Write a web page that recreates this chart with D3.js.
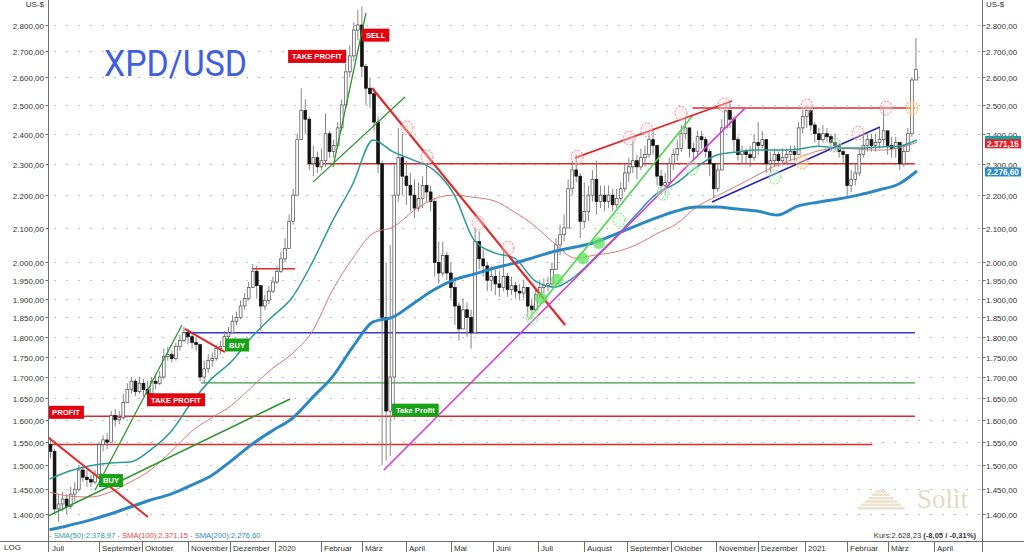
<!DOCTYPE html>
<html><head><meta charset="utf-8">
<script src="https://cdn.jsdelivr.net/npm/d3@7/dist/d3.min.js"></script>
<style>body{margin:0;background:#fff}svg{display:block}</style>
</head><body><svg id="c" width="1024" height="552" font-family="Liberation Sans, Arial, sans-serif"></svg>
<script>
// ---------- DATA ----------
const startDate = "2019-07-29";
const endDate = "2021-04-30";
const firstOpen = 1545;
// two-trading-day candles
const closes = [
1530,1410,1420,1430,1415,1440,1450,1490,1475,1470,
1465,1480,1545,1555,1550,1610,1600,1605,1640,1670,
1690,1665,1685,1670,1660,1690,1685,1700,1750,1755,
1745,1775,1790,1810,1800,1785,1780,1700,1720,1740,
1745,1770,1775,1800,1810,1840,1850,1880,1900,1930,
1975,1935,1880,1895,1920,1945,1975,2010,2040,2120,
2200,2380,2480,2450,2300,2320,2290,2310,2400,2340,
2360,2420,2500,2620,2680,2780,2800,2640,2560,2540,
2440,2300,1850,1620,1700,2200,2320,2260,2230,2200,
2160,2190,2230,2210,2180,2000,1970,2020,1970,1930,
1880,1820,1870,1850,1810,2060,2010,1990,1950,1960,
1940,1930,1960,1925,1935,1920,1915,1930,1880,1870,
1910,1930,1935,1940,1980,2050,2080,2100,2220,2280,
2260,2120,2150,2200,2250,2180,2200,2180,2200,2170,
2190,2220,2270,2290,2310,2290,2320,2330,2380,2360,
2260,2230,2240,2300,2330,2350,2400,2420,2350,2340,
2390,2380,2340,2300,2220,2280,2420,2480,2450,2380,
2330,2340,2330,2320,2370,2360,2380,2300,2310,2330,
2310,2320,2330,2340,2330,2420,2460,2480,2430,2400,
2380,2400,2390,2370,2360,2340,2330,2230,2250,2270,
2330,2360,2380,2360,2370,2380,2410,2360,2350,2370,
2300,2340,2400,2590,2628.23];
const highs = [
1560,1535,1440,1445,1440,1455,1465,1500,1495,1490,
1480,1490,1550,1565,1570,1620,1625,1620,1660,1685,
1700,1695,1700,1695,1690,1700,1705,1715,1770,1775,
1765,1785,1805,1825,1820,1810,1800,1780,1740,1755,
1760,1780,1790,1815,1825,1855,1865,1895,1915,1945,
1995,1990,1930,1910,1935,1960,1990,2030,2070,2140,
2220,2400,2560,2520,2460,2360,2340,2350,2470,2410,
2380,2440,2520,2650,2720,2810,2860,2875,2650,2600,
2560,2460,2310,2000,2050,2300,2420,2400,2310,2270,
2250,2240,2260,2300,2230,2190,2060,2060,2030,2000,
1960,1890,1900,1890,1870,2100,2090,2040,2000,1990,
1980,1975,2035,1970,1960,1945,1940,1950,1930,1900,
1930,1950,1955,1960,2000,2070,2110,2140,2250,2310,
2330,2270,2240,2230,2280,2310,2230,2230,2230,2220,
2220,2240,2300,2320,2380,2330,2350,2360,2410,2420,
2360,2280,2270,2320,2350,2380,2430,2460,2420,2370,
2410,2410,2390,2350,2300,2300,2450,2500,2505,2460,
2390,2360,2350,2360,2400,2440,2410,2380,2340,2350,
2340,2350,2350,2360,2360,2440,2480,2500,2490,2440,
2420,2430,2420,2400,2400,2370,2350,2330,2280,2300,
2350,2400,2400,2400,2400,2420,2490,2410,2390,2390,
2370,2360,2420,2600,2750];
const lows = [
1515,1400,1385,1405,1400,1410,1425,1445,1465,1455,
1455,1460,1480,1530,1535,1550,1585,1590,1600,1640,
1660,1655,1660,1655,1650,1655,1670,1680,1695,1740,
1735,1740,1765,1785,1780,1770,1765,1690,1685,1710,
1725,1740,1755,1775,1790,1810,1830,1845,1870,1895,
1930,1900,1815,1870,1885,1915,1940,1970,2000,2040,
2110,2200,2390,2400,2280,2260,2270,2280,2290,2320,
2320,2350,2410,2490,2600,2660,2740,2600,2500,2490,
2410,2270,1500,1510,1520,1600,2180,2200,2170,2150,
2130,2150,2160,2180,2150,1960,1940,1960,1950,1900,
1830,1790,1820,1800,1770,1810,1980,1960,1920,1920,
1910,1905,1920,1905,1910,1900,1895,1900,1850,1845,
1870,1900,1915,1920,1930,1980,2020,2060,2100,2200,
2240,2070,2100,2120,2180,2140,2160,2150,2160,2150,
2160,2180,2210,2240,2270,2250,2280,2290,2320,2330,
2230,2200,2200,2230,2280,2310,2340,2380,2320,2310,
2330,2350,2320,2260,2190,2210,2280,2420,2420,2340,
2310,2300,2300,2290,2310,2330,2350,2270,2270,2290,
2290,2300,2300,2310,2310,2330,2400,2420,2410,2370,
2360,2370,2370,2340,2340,2320,2300,2200,2210,2230,
2260,2320,2340,2340,2340,2350,2360,2330,2320,2320,
2280,2290,2340,2390,2590];
// moving averages, sampled every 10 trading days (last sample = last day)
const smaDays = [0,10,20,30,40,50,60,70,80,90,100,110,120,130,140,150,160,170,180,190,200,210,220,230,240,250,260,270,280,290,300,310,320,330,340,350,360,370,380,390,400,410,420,429];
const sma50 = [1471,1488,1499,1505,1507,1533,1573,1638,1695,1738,1799,1851,1903,2000,2121,2235,2379,2339,2312,2280,2203,2064,2027,2012,1949,1931,1961,2015,2073,2139,2203,2238,2289,2329,2339,2345,2345,2348,2358,2352,2352,2355,2358,2378.97];
const sma100 = [1444,1436,1434,1444,1465,1490,1529,1573,1604,1633,1676,1720,1757,1814,1923,2012,2084,2103,2151,2188,2200,2193,2182,2148,2106,2053,2012,2021,2030,2050,2082,2112,2163,2197,2229,2263,2296,2319,2342,2352,2348,2345,2352,2371.15];
const sma200 = [1369,1378,1388,1400,1414,1428,1440,1458,1478,1510,1545,1575,1603,1651,1701,1774,1838,1851,1887,1923,1951,1967,1984,1998,2015,2032,2044,2058,2082,2106,2130,2151,2163,2163,2157,2151,2139,2166,2178,2188,2200,2216,2235,2276.6];
const yTickValues = [2800,2700,2600,2500,2400,2300,2200,2100,2000,1950,1900,1850,1800,1750,1700,1650,1600,1550,1500,1450,1400];
const monthKeys = ["2019-07","2019-09","2019-10","2019-11","2019-12","2020-01","2020-02","2020-03","2020-04","2020-05","2020-06","2020-07","2020-08","2020-09","2020-10","2020-11","2020-12","2021-01","2021-02","2021-03","2021-04"];
const monthLabels = ["Juli","September","Oktober","November","Dezember","2020","Februar","März","April","Mai","Juni","Juli","August","September","Oktober","November","Dezember","2021","Februar","März","April"];
// analysis drawings: [day index, price]
const hLines = [
 {from:128,to:428,p:2300,c:"#e02a2a",w:1.6},
 {from:318,to:428,p:2489,c:"#e02a2a",w:1.6},
 {from:66,to:428,p:1810,c:"#3636c8",w:1.6},
 {from:75,to:428,p:1686,c:"#3c9a3c",w:1.3},
 {from:-1,to:428,p:1608,c:"#e02a2a",w:1.6},
 {from:-1,to:407,p:1545,c:"#e02a2a",w:1.6},
 {from:100,to:121.5,p:1982,c:"#e02a2a",w:1.6}];
const trendLines = [
 {a:[-0.7,1561],b:[48.7,1394],c:"#e02a2a",w:2},
 {a:[-0.7,1396],b:[119,1648],c:"#2e962e",w:1.6},
 {a:[22.5,1448],b:[65.5,1830],c:"#2e962e",w:1.3},
 {a:[67,1820],b:[86.8,1761],c:"#e02a2a",w:2},
 {a:[140.2,2289],b:[156.5,2848],c:"#2e962e",w:1.3},
 {a:[130.3,2241],b:[175.8,2528],c:"#2e962e",w:1.3},
 {a:[159.5,2561],b:[255,1830],c:"#e02a2a",w:2.2},
 {a:[165.4,1490],b:[344,2489],c:"#d63bd6",w:1.6},
 {a:[236.6,1843],b:[318.2,2464],c:"#4cd64c",w:1.6},
 {a:[259.9,2319],b:[337.6,2514],c:"#e02a2a",w:1.8},
 {a:[327.6,2179],b:[410.7,2423],c:"#2424b4",w:1.6}];
const redRings = [[176.8,2420],[186.7,2322],[211.9,2115],[226.7,2041],[260.9,2322],[286.6,2385],[295.5,2413],[312.3,2471],[333.6,2500],[374.6,2496],[399.8,2402],[413.7,2489]];
const orangeRings = [[426.5,2489],[372.2,2306]];
const greenRings = [[238.6,1851],[281.6,2124],[303.4,2206],[317.8,2286],[358.8,2257],[388.5,2362]];
const greenDots = [[243,1901],[251,1951],[263.8,2012],[271.7,2056]];
const signals = [
 {t:"TAKE PROFIT",d:118,p:2678,c:"#e3000f"},
 {t:"SELL",d:154.5,p:2760,c:"#e3000f"},
 {t:"PROFIT",d:-0.7,p:1617,c:"#e3000f"},
 {t:"TAKE PROFIT",d:48.2,p:1646,c:"#e3000f"},
 {t:"BUY",d:24.5,p:1468,c:"#17a317"},
 {t:"BUY",d:86.8,p:1779,c:"#17a317"},
 {t:"Take Profit",d:169.4,p:1622,c:"#17a317"}];

// ---------- SETUP ----------
const svg = d3.select("#c");
const days = [];
for (let d = new Date(startDate+"T12:00:00Z"); d <= new Date(endDate+"T12:00:00Z"); d.setUTCDate(d.getUTCDate()+1)) {
  const wd = d.getUTCDay(); if (wd>0 && wd<6) days.push(d.toISOString().slice(0,10));
}
const x = d3.scaleLinear().domain([0,438]).range([49.5, 49.5+2.022*438]);
const y = d3.scaleLog().domain([1400,2800]).range([514,25]);
const L = 48.5, R = 982.5, B = 541.5;
const fmt = v => { const s = v.toFixed(2).split("."); return s[0].replace(/\B(?=(\d{3})+(?!\d))/g,".")+","+s[1]; };

svg.append("defs").append("clipPath").attr("id","plot").append("rect").attr("x",L).attr("y",0).attr("width",R-L).attr("height",B);

// grid
const grid = svg.append("g");
yTickValues.forEach(v=>{
  grid.append("line").attr("x1",L+6).attr("x2",R).attr("y1",Math.round(y(v))+0.5).attr("y2",Math.round(y(v))+0.5)
   .attr("stroke","#9a9a9a").attr("stroke-width",1).attr("stroke-dasharray","1.2,10.8");
});

// watermark
const wm = svg.append("g").attr("fill","#ebe1cf");
[0,1,2,3,4,5].forEach(i=>{
  const w = 10+i*7.5;
  wm.append("rect").attr("x",881-w/2).attr("y",490+i*3.4).attr("width",w).attr("height",2.6);
});
svg.append("text").attr("x",917).attr("y",508).style("font-family","'Liberation Serif','DejaVu Serif',serif").attr("font-size",27).attr("fill","#e4d9c6").text("Solit");

// title
svg.append("text").attr("x",104).attr("y",76).style("font-family","Roboto,'Liberation Sans',sans-serif").attr("font-size",37)
  .attr("textLength",143).attr("lengthAdjust","spacingAndGlyphs").attr("fill","#3f5fe0").text("XPD/USD");

const plot = svg.append("g").attr("clip-path","url(#plot)");

// horizontal analysis lines
hLines.forEach(h=>{
  plot.append("line").attr("x1",x(h.from)).attr("x2",x(h.to)).attr("y1",y(h.p)).attr("y2",y(h.p)).attr("stroke",h.c).attr("stroke-width",h.w);
});

// candles
const cg = plot.append("g");
closes.forEach((c,k)=>{
  const o = k===0 ? firstOpen : closes[k-1];
  const cx = x(2*k+0.5);
  const hi = Math.max(highs[k],o,c), lo = Math.min(lows[k],o,c);
  cg.append("line").attr("x1",cx).attr("x2",cx).attr("y1",y(hi)).attr("y2",y(lo)).attr("stroke","#858585").attr("stroke-width",1);
  const top = y(Math.max(o,c)), bot = y(Math.min(o,c));
  cg.append("rect").attr("x",cx-1.4).attr("width",2.8).attr("y",top).attr("height",Math.max(1,bot-top))
    .attr("fill", c<o ? "#111" : "#fff").attr("stroke", c<o ? "#111" : "#4a4a4a").attr("stroke-width",0.7);
});

// SMAs
const line = d3.line().x((d,i)=>x(smaDays[i])).y(d=>y(d)).curve(d3.curveMonotoneX);
plot.append("path").datum(sma100).attr("d",line).attr("fill","none").attr("stroke","#d9786e").attr("stroke-width",1);
plot.append("path").datum(sma50).attr("d",line).attr("fill","none").attr("stroke","#2a9a9a").attr("stroke-width",1.5);
plot.append("path").datum(sma200).attr("d",line).attr("fill","none").attr("stroke","#2b88c2").attr("stroke-width",3);

// trend lines
trendLines.forEach(t=>{
  plot.append("line").attr("x1",x(t.a[0])).attr("y1",y(t.a[1])).attr("x2",x(t.b[0])).attr("y2",y(t.b[1])).attr("stroke",t.c).attr("stroke-width",t.w);
});

// rings
const ring = (arr, st, fill) => arr.forEach(d=>{
  plot.append("ellipse").attr("cx",x(d[0])).attr("cy",y(d[1])).attr("rx",6).attr("ry",7)
   .attr("fill",fill).attr("stroke",st).attr("stroke-width",1).attr("stroke-dasharray","2,1.5");
});
ring(redRings,"#ec8a8a","rgba(255,215,215,0.35)");
ring(orangeRings,"#f0b060","rgba(255,225,170,0.45)");
ring(greenRings,"#8ad88a","rgba(200,245,200,0.4)");
greenDots.forEach(d=>{
  plot.append("circle").attr("cx",x(d[0])).attr("cy",y(d[1])).attr("r",6).attr("fill","#5fe05f").attr("opacity",0.75);
});

// signal labels
signals.forEach(s=>{
  const g = svg.append("g");
  const t = g.append("text").attr("x",x(s.d)+4).attr("y",y(s.p)+2.8).attr("font-size",7.6).attr("font-weight","bold").attr("fill","#fff").text(s.t);
  const w = t.node().getComputedTextLength()+8;
  g.insert("rect","text").attr("x",x(s.d)).attr("y",y(s.p)-6.5).attr("width",w).attr("height",13).attr("fill",s.c);
});

// axes
const ax = svg.append("g").attr("stroke","#6e6e6e").attr("stroke-width",1);
ax.append("line").attr("x1",L).attr("x2",L).attr("y1",0).attr("y2",552);
ax.append("line").attr("x1",R).attr("x2",R).attr("y1",0).attr("y2",552);
ax.append("line").attr("x1",0).attr("x2",1024).attr("y1",B).attr("y2",B);
yTickValues.forEach(v=>{
  const yy = Math.round(y(v))+0.5;
  ax.append("line").attr("x1",L-3).attr("x2",L).attr("y1",yy).attr("y2",yy);
  ax.append("line").attr("x1",R).attr("x2",R+3).attr("y1",yy).attr("y2",yy);
  svg.append("text").attr("x",44).attr("y",yy+3).attr("text-anchor","end").attr("font-size",8).attr("fill","#333").text(fmt(v));
  svg.append("text").attr("x",986).attr("y",yy+3).attr("font-size",8).attr("fill","#333").text(fmt(v));
});
svg.append("text").attr("x",44).attr("y",7).attr("text-anchor","end").attr("font-size",8).attr("fill","#333").text("US-$");
svg.append("text").attr("x",986).attr("y",7).attr("font-size",8).attr("fill","#333").text("US-$");
svg.append("text").attr("x",4).attr("y",550).attr("font-size",8).attr("fill","#333").text("LOG");

// month ticks
monthKeys.forEach((m,i)=>{
  const idx = days.findIndex(d=>d.startsWith(m));
  const xx = Math.round(x(idx)-1)+0.5;
  if (i>0) ax.append("line").attr("x1",xx).attr("x2",xx).attr("y1",B).attr("y2",552);
  svg.append("text").attr("x",xx+2.5).attr("y",550.5).attr("font-size",8).attr("fill","#333").text(monthLabels[i]);
});

// right value markers (SMA50 marker is covered by the SMA100 marker, only its edge shows)
const last50 = sma50[sma50.length-1], last100 = sma100[sma100.length-1], last200 = sma200[sma200.length-1];
svg.append("rect").attr("x",985).attr("y",y(last50)-4).attr("width",36).attr("height",8).attr("fill","#22a0a0");
const mk = (v,c,dy)=>{
  svg.append("rect").attr("x",985).attr("y",y(v)-4.5+dy).attr("width",36).attr("height",9).attr("fill",c);
  svg.append("text").attr("x",987).attr("y",y(v)+3+dy).attr("font-size",8.2).attr("font-weight","bold").attr("fill","#fff").text(fmt(v));
};
mk(last100,"#ee1c25",1.5);
mk(last200,"#2a8cc8",1);

// legend
const lg = svg.append("text").attr("x",49).attr("y",538).attr("font-size",7.6);
lg.append("tspan").attr("fill","#2a9a9a").text("- SMA(50):"+fmt(last50)+" ");
lg.append("tspan").attr("fill","#e04848").text("- SMA(100):"+fmt(last100)+" ");
lg.append("tspan").attr("fill","#2b88c2").text("- SMA(200):"+fmt(last200));

const kt = svg.append("text").attr("x",976).attr("y",538).attr("text-anchor","end").attr("font-size",7.6).attr("fill","#333");
kt.append("tspan").text("Kurs:"+fmt(closes[closes.length-1])+" ");
kt.append("tspan").attr("font-weight","bold").text("(-8,05 / -0,31%)");
</script></body></html>
